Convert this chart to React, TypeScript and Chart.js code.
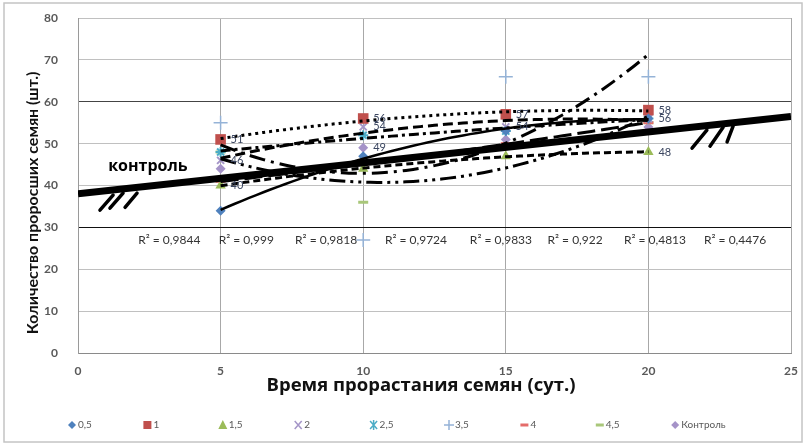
import { useEffect, useRef } from 'react';
import { Chart, registerables } from 'chart.js';
Chart.register(...registerables);

// ---- data ----
const days = [5, 10, 15, 20];
const seriesNames = ['0,5', '1', '1,5', '2', '2,5', '3,5', '4', '4,5', 'Контроль'];
const s05 = [34, 47, 53, 56];
const s1 = [51, 56, 57, 58];
const s15 = [40, 44, 47, 48];
const s2 = [46, 54, 54, 56];
const s25 = [48, 52, 53, 56];
const s35 = [55, 27, 66, 66];
const s4 = [41, 45, 50, 55];
const s45 = [48, 36, 49, 55];
const sControl = [44, 49, 51, 54];
const allSeries = [s05, s1, s15, s2, s25, s35, s4, s45, sControl];

// which values carry a data label
const labelMask = [
  [false, false, false, false],
  [true, true, true, true],
  [true, false, false, true],
  [true, true, true, true],
  [false, false, false, false],
  [false, false, false, false],
  [false, false, false, false],
  [false, false, false, false],
  [false, true, false, false],
];

// hand-drawn control line
const controlLineX = [0, 25];
const controlLineY = [38, 56.5];
const controlText = 'контроль';

const rSquaredTexts = ['R² = 0,9844', 'R² = 0,999', 'R² = 0,9818', 'R² = 0,9724', 'R² = 0,9833', 'R² = 0,922', 'R² = 0,4813', 'R² = 0,4476'];

const xTitle = 'Время прорастания семян (сут.)';
const yTitle = 'Количество проросших семян (шт.)';

// ---- styles ----
const markerColors = ['#4F81BD', '#C0504D', '#9BBB59', '#A596C8', '#4BACC6', '#95B3D7', '#E46C6A', '#A9C77A', '#A593C8'];
const markerStyles = ['rectRot', 'rect', 'triangle', 'crossRot', 'star', 'cross', 'line', 'line', 'rectRot'];
const markerRadius = [5, 7.5, 6, 5, 5, 7, 5, 5, 5];
const trendDashes = [[], [3, 4], [7, 4], [10, 5], [10, 4, 3, 4], [16, 6, 3, 6], [18, 6], [16, 5, 3, 5, 3, 5]];
const rSquaredX = [3.2, 5.9, 8.7, 11.85, 14.83, 17.43, 20.23, 23.04];
const rSquaredY = 27;
const controlTextPos = { x: 2.45, y: 44.5 };
const hashStrokes = [
  [0.77, 34.1, 1.23, 37.7], [1.12, 34.6, 1.58, 38.2], [1.65, 34.8, 2.07, 38.2],
  [21.53, 48.9, 22.05, 53.2], [22.16, 49.4, 22.62, 53.9], [22.76, 50.4, 22.97, 54.2],
];
const FONT = 'Lato, "Open Sans", sans-serif';
const WIDE = '"Open Sans", Lato, sans-serif';

// Excel-like polynomial (order 2) trendline from the data
function quadTrend(ys: (number | null)[]) {
  const pts = days.map((d, i) => [d, ys[i]]).filter((p) => p[1] != null) as number[][];
  const n = pts.length;
  let sx = 0, sx2 = 0, sx3 = 0, sx4 = 0, sy = 0, sxy = 0, sx2y = 0;
  for (const [x, y] of pts) {
    sx += x; sx2 += x * x; sx3 += x ** 3; sx4 += x ** 4;
    sy += y; sxy += x * y; sx2y += x * x * y;
  }
  const M = [[n, sx, sx2, sy], [sx, sx2, sx3, sxy], [sx2, sx3, sx4, sx2y]];
  for (let i = 0; i < 3; i++) {
    for (let k = i + 1; k < 3; k++) {
      const f = M[k][i] / M[i][i];
      for (let j = i; j < 4; j++) M[k][j] -= f * M[i][j];
    }
  }
  const c = [0, 0, 0];
  for (let i = 2; i >= 0; i--) {
    let s = M[i][3];
    for (let j = i + 1; j < 3; j++) s -= M[i][j] * c[j];
    c[i] = s / M[i][i];
  }
  const out: { x: number; y: number }[] = [];
  for (let x = days[0]; x <= days[days.length - 1] + 1e-9; x += 0.25) {
    out.push({ x, y: c[0] + c[1] * x + c[2] * x * x });
  }
  return out;
}

function drawLegendMarker(ctx: CanvasRenderingContext2D, style: string, x: number, y: number, color: string) {
  ctx.save();
  ctx.fillStyle = color;
  ctx.strokeStyle = color;
  ctx.lineWidth = 1.5;
  ctx.beginPath();
  const r = 4;
  if (style === 'rectRot') {
    ctx.moveTo(x, y - r); ctx.lineTo(x + r, y); ctx.lineTo(x, y + r); ctx.lineTo(x - r, y); ctx.closePath(); ctx.fill();
  } else if (style === 'rect') {
    ctx.fillRect(x - 4, y - 4, 8, 8);
  } else if (style === 'triangle') {
    ctx.moveTo(x, y - 5); ctx.lineTo(x + 4.5, y + 4); ctx.lineTo(x - 4.5, y + 4); ctx.closePath(); ctx.fill();
  } else if (style === 'crossRot') {
    ctx.moveTo(x - 3.5, y - 4); ctx.lineTo(x + 3.5, y + 4); ctx.moveTo(x + 3.5, y - 4); ctx.lineTo(x - 3.5, y + 4); ctx.stroke();
  } else if (style === 'star') {
    ctx.moveTo(x - 3.5, y - 4); ctx.lineTo(x + 3.5, y + 4); ctx.moveTo(x + 3.5, y - 4); ctx.lineTo(x - 3.5, y + 4);
    ctx.moveTo(x, y - 5); ctx.lineTo(x, y + 5); ctx.stroke();
  } else if (style === 'cross') {
    ctx.moveTo(x - 5, y); ctx.lineTo(x + 5, y); ctx.moveTo(x, y - 5); ctx.lineTo(x, y + 5); ctx.stroke();
  } else if (style === 'line') {
    ctx.lineWidth = 3;
    ctx.moveTo(x - 4, y); ctx.lineTo(x + 4, y); ctx.stroke();
  }
  ctx.restore();
}

const overlayPlugin = {
  id: 'overlay',
  afterDatasetsDraw(chart: any) {
    const { ctx } = chart;
    const xs = chart.scales.x;
    const ys = chart.scales.y;
    ctx.save();
    // hand-drawn hash marks
    ctx.strokeStyle = '#000';
    ctx.lineWidth = 3.5;
    ctx.lineCap = 'round';
    for (const [x1, y1, x2, y2] of hashStrokes) {
      ctx.beginPath();
      ctx.moveTo(xs.getPixelForValue(x1), ys.getPixelForValue(y1));
      ctx.lineTo(xs.getPixelForValue(x2), ys.getPixelForValue(y2));
      ctx.stroke();
    }
    // data labels
    ctx.font = `11px ${FONT}`;
    ctx.fillStyle = '#3b4660';
    ctx.textBaseline = 'middle';
    ctx.textAlign = 'left';
    allSeries.forEach((vals, si) => {
      vals.forEach((v, i) => {
        if (v == null || !labelMask[si][i]) return;
        ctx.fillText(String(v), xs.getPixelForValue(days[i]) + 10, ys.getPixelForValue(v));
      });
    });
    // R² texts
    ctx.font = `12px ${FONT}`;
    ctx.fillStyle = '#333';
    ctx.textAlign = 'center';
    rSquaredTexts.forEach((t, i) => {
      ctx.fillText(t, xs.getPixelForValue(rSquaredX[i]), ys.getPixelForValue(rSquaredY));
    });
    // control text
    ctx.font = `bold 16px ${WIDE}`;
    ctx.fillStyle = '#000';
    ctx.fillText(controlText, xs.getPixelForValue(controlTextPos.x), ys.getPixelForValue(controlTextPos.y));
    ctx.restore();
  },
  afterDraw(chart: any) {
    const { ctx } = chart;
    ctx.save();
    // axis titles
    ctx.fillStyle = '#111';
    ctx.textAlign = 'center';
    ctx.textBaseline = 'middle';
    ctx.font = `bold 18.5px ${WIDE}`;
    ctx.fillText(xTitle, 421, 386);
    ctx.save();
    ctx.translate(33, 203);
    ctx.rotate(-Math.PI / 2);
    ctx.font = `bold 16px ${FONT}`;
    ctx.fillText(yTitle, 0, 0);
    ctx.restore();
    // legend
    ctx.font = `10px ${FONT}`;
    ctx.textAlign = 'left';
    seriesNames.forEach((name, i) => {
      const mx = 72 + i * 75.4;
      drawLegendMarker(ctx, markerStyles[i], mx, 425, markerColors[i]);
      ctx.fillStyle = '#595959';
      ctx.fillText(name, mx + 6, 425);
    });
    // outer frame
    ctx.strokeStyle = '#c4c4c4';
    ctx.lineWidth = 1.5;
    ctx.strokeRect(4, 3, 798, 439);
    ctx.restore();
  },
};

export default function App() {
  const ref = useRef<HTMLCanvasElement>(null);
  useEffect(() => {
    document.body.style.margin = '0';
    const markerSets = allSeries.map((vals, i) => ({
      label: seriesNames[i],
      data: days.map((d, j) => ({ x: d, y: vals[j] })).filter((p) => p.y != null),
      showLine: false,
      pointStyle: markerStyles[i],
      pointRadius: markerRadius[i],
      pointBackgroundColor: markerColors[i],
      pointBorderColor: markerColors[i],
      pointBorderWidth: markerStyles[i] === 'line' ? 3 : markerStyles[i] === 'crossRot' || markerStyles[i] === 'star' ? 2 : markerStyles[i] === 'cross' ? 1.5 : 0,
      order: 3,
    }));
    const trendSets = allSeries.slice(0, 8).map((vals, i) => ({
      label: 'trend ' + seriesNames[i],
      data: quadTrend(vals),
      showLine: true,
      borderColor: '#000',
      borderWidth: i === 0 ? 2.5 : 3,
      borderDash: trendDashes[i],
      pointRadius: 0,
      fill: false,
      order: 2,
    }));
    const controlSet = {
      label: 'контроль',
      data: controlLineX.map((x, i) => ({ x, y: controlLineY[i] })),
      showLine: true,
      borderColor: '#000',
      borderWidth: 7,
      pointRadius: 0,
      order: 1,
    };
    const tickFont = { family: FONT, size: 12, weight: 'bold' as const };
    const chart = new Chart(ref.current!, {
      type: 'scatter',
      data: { datasets: [...markerSets, ...trendSets, controlSet] as any },
      options: {
        animation: false,
        responsive: false,
        maintainAspectRatio: false,
        layout: { autoPadding: false, padding: { top: 18, right: 16, left: 0, bottom: 0 } },
        plugins: { legend: { display: false }, tooltip: { enabled: false } },
        scales: {
          x: {
            type: 'linear',
            min: 0,
            max: 25,
            ticks: { stepSize: 5, padding: 11, font: tickFont, color: '#595959' },
            grid: {
              drawTicks: false,
              color: (c: any) => (c.tick && c.tick.value === 0 ? 'rgba(0,0,0,0)' : '#a8a8a8'),
            },
            border: { color: '#8a8a8a' },
            afterFit: (s: any) => { s.height = 94; s.paddingLeft = 0; s.paddingRight = 0; },
          },
          y: {
            min: 0,
            max: 80,
            ticks: { stepSize: 10, padding: 20, font: tickFont, color: '#595959' },
            grid: {
              drawTicks: false,
              color: (c: any) => {
                const v = c.tick ? c.tick.value : -1;
                if (v === 30) return '#111';
                if (v === 60) return '#444';
                if (v === 0) return '#777';
                return '#c0c0c0';
              },
            },
            border: { color: '#9a9a9a' },
            afterFit: (s: any) => { s.width = 78; s.paddingTop = 0; s.paddingBottom = 0; },
          },
        },
      },
      plugins: [overlayPlugin],
    });
    return () => chart.destroy();
  }, []);
  return <canvas ref={ref} width={807} height={447} style={{ display: 'block', background: '#fff' }} />;
}
